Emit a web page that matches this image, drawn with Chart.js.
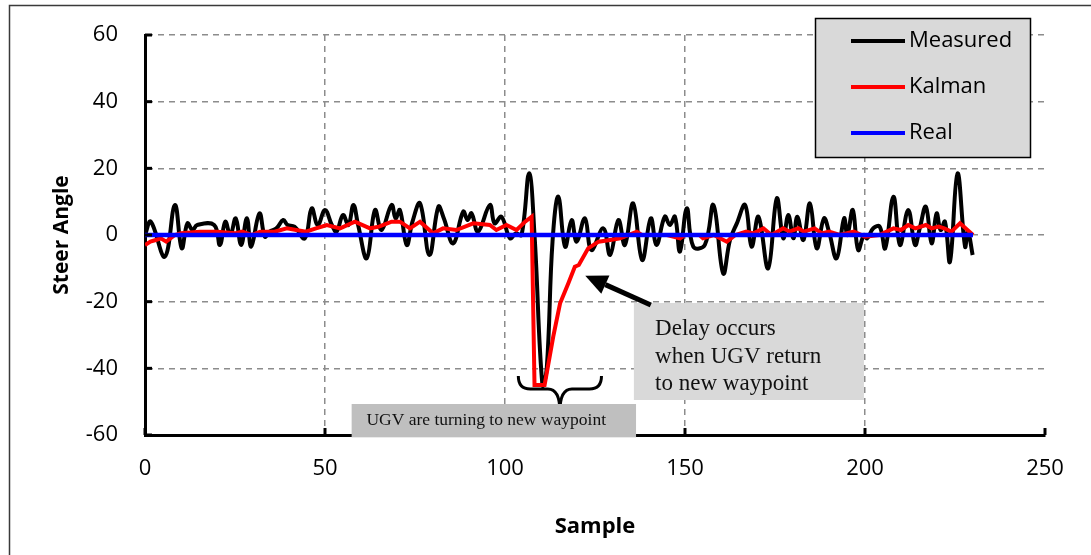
<!DOCTYPE html>
<html>
<head>
<meta charset="utf-8">
<script src="https://cdn.jsdelivr.net/npm/chart.js@4.4.0/dist/chart.umd.min.js"></script>
<style>
    body { margin: 0; background: #fff; }
    #wrap { position: relative; width: 1091px; height: 555px; }
</style>
</head>
<body>
<div id="wrap"><canvas id="myChart" width="1091" height="555"></canvas></div>
<script>
// values (sample, steer angle)
const measuredX = [0, 1.6, 5.5, 8.3, 10.2, 11.8, 13.2, 14.5, 19.2, 20.8,
    22.3, 23.7, 25.2, 26.7, 28.3, 29.5, 31.8, 33.3, 34.6, 36.5,
    38.4, 39.6, 41.5, 44.4, 46.3, 48, 50, 51.9, 53.2, 55,
    56.5, 57.9, 59.2, 61.6, 63.9, 65.7, 68.5, 69.6, 70.8, 72.7,
    74.3, 76.4, 79, 81.5, 83, 85.6, 88.4, 89.6, 90.7, 92.5,
    95.8, 97.1, 99, 101.4, 103, 104.6, 106.7, 108.2, 110.4, 111.6,
    113.2, 114.8, 116.7, 118.5, 119.9, 122.2, 124, 127.3, 129.2, 131.5,
    133.3, 135.6, 138.1, 140.5, 142.1, 144.4, 145.8, 147.2, 148.6, 150.5,
    152.3, 155.5, 157.9, 160.6, 162.5, 164.4, 166.7, 168.5, 170.4, 173.1,
    175.5, 177.3, 178.7, 180.1, 181.2, 182.9, 184.7, 186.6, 188.6, 190,
    192.1, 194.2, 195.1, 196.6, 198.1, 199.7, 200.6, 202.3, 204.1, 205.6,
    207.9, 209.7, 212, 213.9, 215.2, 216.9, 218.5, 219.9, 221, 222.2,
    223.6, 225.7, 227.8, 228.6, 229.9];
const measuredY = [0, 4, -6.5, 9, -4, 3.5, 1.5, 3, 3, -3,
    4, 0, 5, -3, 5, -3.5, 6.5, -0.5, 1, 2,
    4.5, 3, 2.5, -1, 8, 3, 7.5, 3, 1, 6,
    3, 9, 3, -7, 7.5, 1.5, 9, 5, 7.5, -3,
    4, 9.5, -6, 8.5, 5, -2.5, 7, 4.5, 6.5, 1,
    9, 3.5, 5.5, -1, 0.5, 0, 18.5, 0, -45, -40,
    -2, 11.5, -3.5, 4.5, -2, 5, -4.5, 2, -6, 4.5,
    -3, 9.5, -7.5, 5, -3, 5.5, 3, 5.5, -5, 8,
    -3.5, -3, 9, -11.5, -1.5, 3.5, 9, -3.5, 5.5, -10,
    11, -1, 6, -1, 5.5, -1.5, 9.5, -4, 5, 1,
    -7, 5, 0, 7.5, -4.5, 0, -1, 2, 2.5, -4,
    11.5, -3, 7.5, -3, 2, 8.5, -2.5, 6.5, 1.5, 4,
    -8, 18.5, -3.5, 1, -6];

const kalmanX = [0, 1.5, 3, 4.4, 5.9, 8.3, 10, 15.3, 20, 25,
    27, 29.6, 32, 36, 39.4, 42, 44.7, 47.5, 50.5, 54.2,
    58.3, 62.5, 65, 68.5, 70.8, 73.6, 76.4, 80, 82.8, 86.5,
    91.2, 95.8, 97.6, 100.4, 103.2, 105.6, 107.4, 108.2, 111, 113.4,
    115.3, 117.6, 119.4, 120.5, 123.1, 126, 129.2, 132, 136.6, 138,
    145, 148.6, 150, 154, 155, 158, 161.6, 164, 167, 169,
    171.8, 174, 177.3, 179, 181.5, 183, 186, 188, 190, 193,
    196.9, 200, 204, 207.9, 210, 212, 214, 216.9, 218.5, 220.5,
    222, 224, 226.4, 230];
const kalmanY = [-3, -2, -1.5, -1, -2, 0, 0.5, 1, 1, 0.5,
    1, 0, 1, 1, 2, 1.5, 1, 2, 3, 2,
    4, 2, 2.5, 4, 4, 2, 4, 0.5, 2, 1.5,
    3.5, 3, 1.5, 3, 1.5, 4, 5.5, -45, -45, -30.5,
    -20.5, -14.5, -9.5, -9, -4, -2, -1.5, -1, 1, 0,
    0, -1, 0, 0, -1, 0, -2, 0, 1, 0.5,
    2, 0, 2, 1, 2, 1, 2, 0.5, 1, 0,
    1, -0.5, 0, 2, 1.5, 3, 2, 3, 2, 2.5,
    2, 1, 3.5, 0];

const realX = [0, 230];
const realY = [0, 0];

const xTicks = [0, 50, 100, 150, 200, 250];
const yTicks = [-60, -40, -20, 0, 20, 40, 60];

const seriesNames = ['Measured', 'Kalman', 'Real'];
const seriesColors = ['#000000', '#ff0000', '#0000ff'];

function toPoints(xs, ys) {
    return xs.map((x, i) => ({ x: x, y: ys[i] }));
}

const FONT = '"Open Sans", "Noto Sans", sans-serif';
const SERIF = '"Liberation Serif", "DejaVu Serif", serif';

// outer frame, inward tick marks, legend and the two notes
const extrasPlugin = {
    id: 'extras',
    beforeDraw(chart) {
        const c = chart.ctx;
        c.save();
        c.fillStyle = '#fff';
        c.fillRect(0, 0, chart.width, chart.height);
        c.strokeStyle = '#3a3a3a';
        c.lineWidth = 1.5;
        c.beginPath();
        c.moveTo(9.5, chart.height + 5);
        c.lineTo(9.5, 5.5);
        c.lineTo(chart.width + 5, 5.5);
        c.stroke();
        c.restore();
    },
    afterDraw(chart) {
        const c = chart.ctx;
        const xs = chart.scales.x, ys = chart.scales.y;
        const area = chart.chartArea;
        const px = v => xs.getPixelForValue(v);
        const py = v => ys.getPixelForValue(v);

        c.save();
        // inward ticks
        c.strokeStyle = '#000';
        c.lineWidth = 3;
        yTicks.forEach(v => {
            c.beginPath();
            c.moveTo(area.left, py(v));
            c.lineTo(area.left + 7, py(v));
            c.stroke();
        });
        xTicks.forEach(v => {
            c.beginPath();
            c.moveTo(px(v), area.bottom);
            c.lineTo(px(v), area.bottom - 7);
            c.stroke();
        });

        // legend
        c.fillStyle = '#d9d9d9';
        c.fillRect(815, 18, 215, 139);
        c.strokeStyle = '#000';
        c.lineWidth = 1.5;
        c.strokeRect(815.5, 18.5, 215, 139);
        c.font = '22px ' + FONT;
        c.textBaseline = 'middle';
        c.textAlign = 'left';
        seriesNames.forEach((name, i) => {
            const y = 41 + i * 46;
            c.strokeStyle = seriesColors[i];
            c.lineWidth = 4;
            c.beginPath();
            c.moveTo(851, y);
            c.lineTo(905, y);
            c.stroke();
            c.fillStyle = '#000';
            c.fillText(name, 909, y);
        });

        // delay note with arrow
        c.fillStyle = '#d9d9d9';
        c.fillRect(px(135.8), py(-20.4), px(199.7) - px(135.8), py(-49.5) - py(-20.4));
        c.fillStyle = '#111';
        c.font = '23px ' + SERIF;
        c.textBaseline = 'alphabetic';
        const noteLeft = px(141.7);
        c.fillText('Delay occurs', noteLeft, py(-30));
        c.fillText('when UGV return', noteLeft, py(-38.4));
        c.fillText('to new waypoint', noteLeft, py(-46.5));

        const tail = { x: px(140.5), y: py(-21) };
        const tip = { x: px(122.3), y: py(-12.2) };
        const ang = Math.atan2(tip.y - tail.y, tip.x - tail.x);
        const headLen = 22, headW = 10;
        const baseX = tip.x - headLen * Math.cos(ang), baseY = tip.y - headLen * Math.sin(ang);
        c.strokeStyle = '#000';
        c.lineWidth = 5;
        c.beginPath();
        c.moveTo(tail.x, tail.y);
        c.lineTo(baseX, baseY);
        c.stroke();
        c.fillStyle = '#000';
        c.beginPath();
        c.moveTo(tip.x, tip.y);
        c.lineTo(baseX + headW * Math.sin(ang), baseY - headW * Math.cos(ang));
        c.lineTo(baseX - headW * Math.sin(ang), baseY + headW * Math.cos(ang));
        c.closePath();
        c.fill();

        // brace
        const L = px(103.7), R = px(126.8), M = (L + R) / 2;
        const top = py(-42.3), mid = py(-46.2), bot = py(-53);
        c.lineWidth = 3;
        c.beginPath();
        c.moveTo(L, top);
        c.quadraticCurveTo(L, mid, L + 12, mid);
        c.lineTo(M - 12, mid);
        c.quadraticCurveTo(M, mid, M, bot);
        c.quadraticCurveTo(M, mid, M + 12, mid);
        c.lineTo(R - 12, mid);
        c.quadraticCurveTo(R, mid, R, top);
        c.stroke();

        // turning note (sits over the x axis)
        c.fillStyle = '#bfbfbf';
        c.fillRect(px(57.4), py(-50.7), px(136.4) - px(57.4), py(-60.7) - py(-50.7));
        c.fillStyle = '#111';
        c.font = '17.5px ' + SERIF;
        c.textBaseline = 'middle';
        c.fillText('UGV are turning to new waypoint', px(61.5), py(-55.5));
        c.restore();
    }
};

const ctx = document.getElementById('myChart').getContext('2d');
const myChart = new Chart(ctx, {
    type: 'line',
    data: {
        datasets: [
            { label: seriesNames[2], data: toPoints(realX, realY), borderColor: seriesColors[2], borderWidth: 4.5, tension: 0, order: 0 },
            { label: seriesNames[1], data: toPoints(kalmanX, kalmanY), borderColor: seriesColors[1], borderWidth: 4, tension: 0, order: 1 },
            { label: seriesNames[0], data: toPoints(measuredX, measuredY), borderColor: seriesColors[0], borderWidth: 4, tension: 0.4, order: 2 }
        ]
    },
    options: {
        responsive: false,
        animation: false,
        events: [],
        elements: { point: { radius: 0 } },
        layout: { padding: { left: 0, top: 35, right: 46, bottom: 0 } },
        plugins: {
            legend: { display: false },
            tooltip: { enabled: false }
        },
        scales: {
            x: {
                type: 'linear',
                min: 0,
                max: 250,
                afterFit: s => { s.height = 120; },
                afterBuildTicks: s => { s.ticks = xTicks.map(v => ({ value: v })); },
                ticks: { color: '#000', font: { family: FONT, size: 22 }, padding: 21, maxRotation: 0 },
                grid: {
                    drawTicks: false,
                    lineWidth: 1.5,
                    color: c => (c.tick && (c.tick.value === 0 || c.tick.value === 250)) ? 'rgba(0,0,0,0)' : '#8c8c8c'
                },
                border: { display: true, color: '#000', width: 3, dash: [6, 5] },
                title: { display: true, text: 'Sample', color: '#000', font: { family: FONT, size: 22, weight: 'bold' }, padding: { bottom: 15 } }
            },
            y: {
                type: 'linear',
                min: -60,
                max: 60,
                afterFit: s => { s.width = 145; },
                afterBuildTicks: s => { s.ticks = yTicks.map(v => ({ value: v })); },
                ticks: { color: '#000', font: { family: FONT, size: 22 }, padding: 5 },
                grid: {
                    drawTicks: true,
                    tickLength: 22,
                    tickColor: 'rgba(0,0,0,0)',
                    lineWidth: 1.5,
                    color: c => (c.tick && c.tick.value === -60) ? 'rgba(0,0,0,0)' : '#8c8c8c'
                },
                border: { display: true, color: '#000', width: 3, dash: [6, 5] },
                title: { display: true, text: 'Steer Angle', color: '#000', font: { family: FONT, size: 21, weight: 'bold' }, padding: { top: 49 } }
            }
        }
    },
    plugins: [extrasPlugin]
});
</script>
</body>
</html>
